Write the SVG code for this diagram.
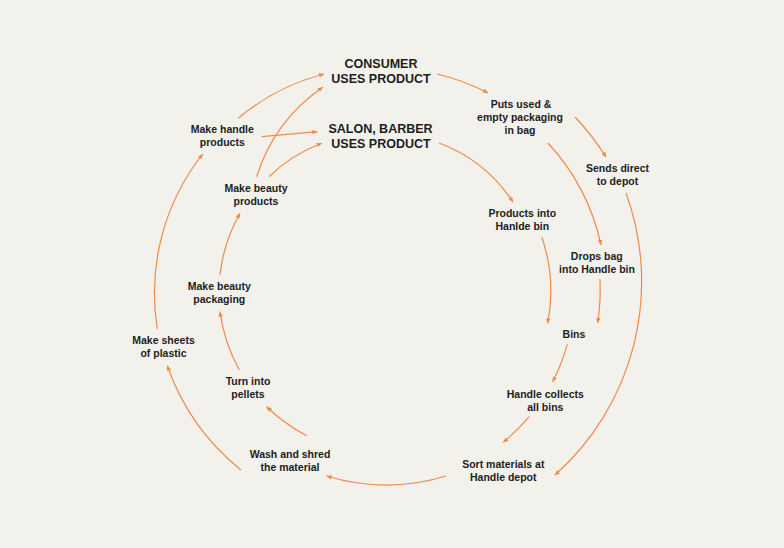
<svg xmlns="http://www.w3.org/2000/svg" width="784" height="548" viewBox="0 0 784 548">
<defs>
<style>
.bg{fill:#f2f1ec}
.c path{fill:none;stroke:#f08a4b;stroke-width:1.2;marker-end:url(#ah)}
text{font-family:"Liberation Sans",Arial,sans-serif;font-weight:bold;fill:#1d1d1b;text-anchor:middle}
.s{font-size:10.5px}
.h{font-size:12.5px}
</style>
<marker id="ah" viewBox="0 0 6 5" refX="5.5" refY="2.5" markerWidth="5.5" markerHeight="4.5" markerUnits="userSpaceOnUse" orient="auto">
<path d="M0,0 L6,2.5 L0,5 z" fill="#f08a4b"/>
</marker>
</defs>
<rect class="bg" x="0" y="0" width="784" height="548"/>
<g id="connectors" class="c">
<path d="M437,74 A216,216 0 0 1 488,93"/>
<path d="M439,143 A152,152 0 0 1 513,202"/>
<path d="M575,117 A255,255 0 0 1 606,157"/>
<path d="M548,143 A219,219 0 0 1 601,245"/>
<path d="M626,193 A259,259 0 0 1 555,475"/>
<path d="M541.7,236.7 A168,168 0 0 1 547.7,323.3"/>
<path d="M600,279.3 A219,219 0 0 1 597.7,322.7"/>
<path d="M567.3,344.3 A197,197 0 0 1 552.7,381.7"/>
<path d="M529.3,416.7 A200,200 0 0 1 503.3,442.3"/>
<path d="M446,476 A203,203 0 0 1 326.7,476"/>
<path d="M306.7,435.7 A170,170 0 0 1 266.7,406.7"/>
<path d="M241,470 A232,232 0 0 1 167.3,365.7"/>
<path d="M239.3,370 A166,166 0 0 1 220,311.7"/>
<path d="M157.3,329 A225,225 0 0 1 202.7,154"/>
<path d="M220,275 A160,160 0 0 1 240,213.3"/>
<path d="M269,176.7 A153,153 0 0 1 321.7,143.3"/>
<path d="M256.7,176.7 Q274,121 322.7,87.3"/>
<path d="M261.7,136.7 L317.3,131.7"/>
<path d="M238.3,118.3 A217,217 0 0 1 324,74"/>
</g>
<g id="consumer"><text class="h" x="381" y="68.3">CONSUMER</text><text class="h" x="381" y="83.3">USES PRODUCT</text></g>
<g id="salon"><text class="h" x="380.5" y="132.5">SALON, BARBER</text><text class="h" x="381" y="147.5">USES PRODUCT</text></g>
<g id="make-handle"><text class="s" x="222.3" y="132.7">Make handle</text><text class="s" x="222.3" y="145.5">products</text></g>
<g id="make-beauty-products"><text class="s" x="256" y="191.5">Make beauty</text><text class="s" x="256" y="204.5">products</text></g>
<g id="puts-used"><text class="s" x="521" y="108.3">Puts used &amp;</text><text class="s" x="520" y="121.3">empty packaging</text><text class="s" x="520" y="134.3">in bag</text></g>
<g id="sends-direct"><text class="s" x="617.5" y="172.3">Sends direct</text><text class="s" x="617.5" y="185.3">to depot</text></g>
<g id="products-into"><text class="s" x="522.3" y="217.3">Products into</text><text class="s" x="522.3" y="230.3">Hanlde bin</text></g>
<g id="drops-bag"><text class="s" x="596.8" y="260.3">Drops bag</text><text class="s" x="597" y="273.3">into Handle bin</text></g>
<g id="bins"><text class="s" x="574" y="338">Bins</text></g>
<g id="handle-collects"><text class="s" x="545.3" y="398">Handle collects</text><text class="s" x="545.3" y="411">all bins</text></g>
<g id="sort-materials"><text class="s" x="503.3" y="468">Sort materials at</text><text class="s" x="503.3" y="481">Handle depot</text></g>
<g id="wash-shred"><text class="s" x="290" y="457.7">Wash and shred</text><text class="s" x="290" y="470.5">the material</text></g>
<g id="turn-pellets"><text class="s" x="248" y="385">Turn into</text><text class="s" x="248" y="398">pellets</text></g>
<g id="make-sheets"><text class="s" x="163.5" y="344">Make sheets</text><text class="s" x="163.5" y="357">of plastic</text></g>
<g id="make-beauty-packaging"><text class="s" x="219.3" y="290">Make beauty</text><text class="s" x="219.3" y="303">packaging</text></g>
</svg>
